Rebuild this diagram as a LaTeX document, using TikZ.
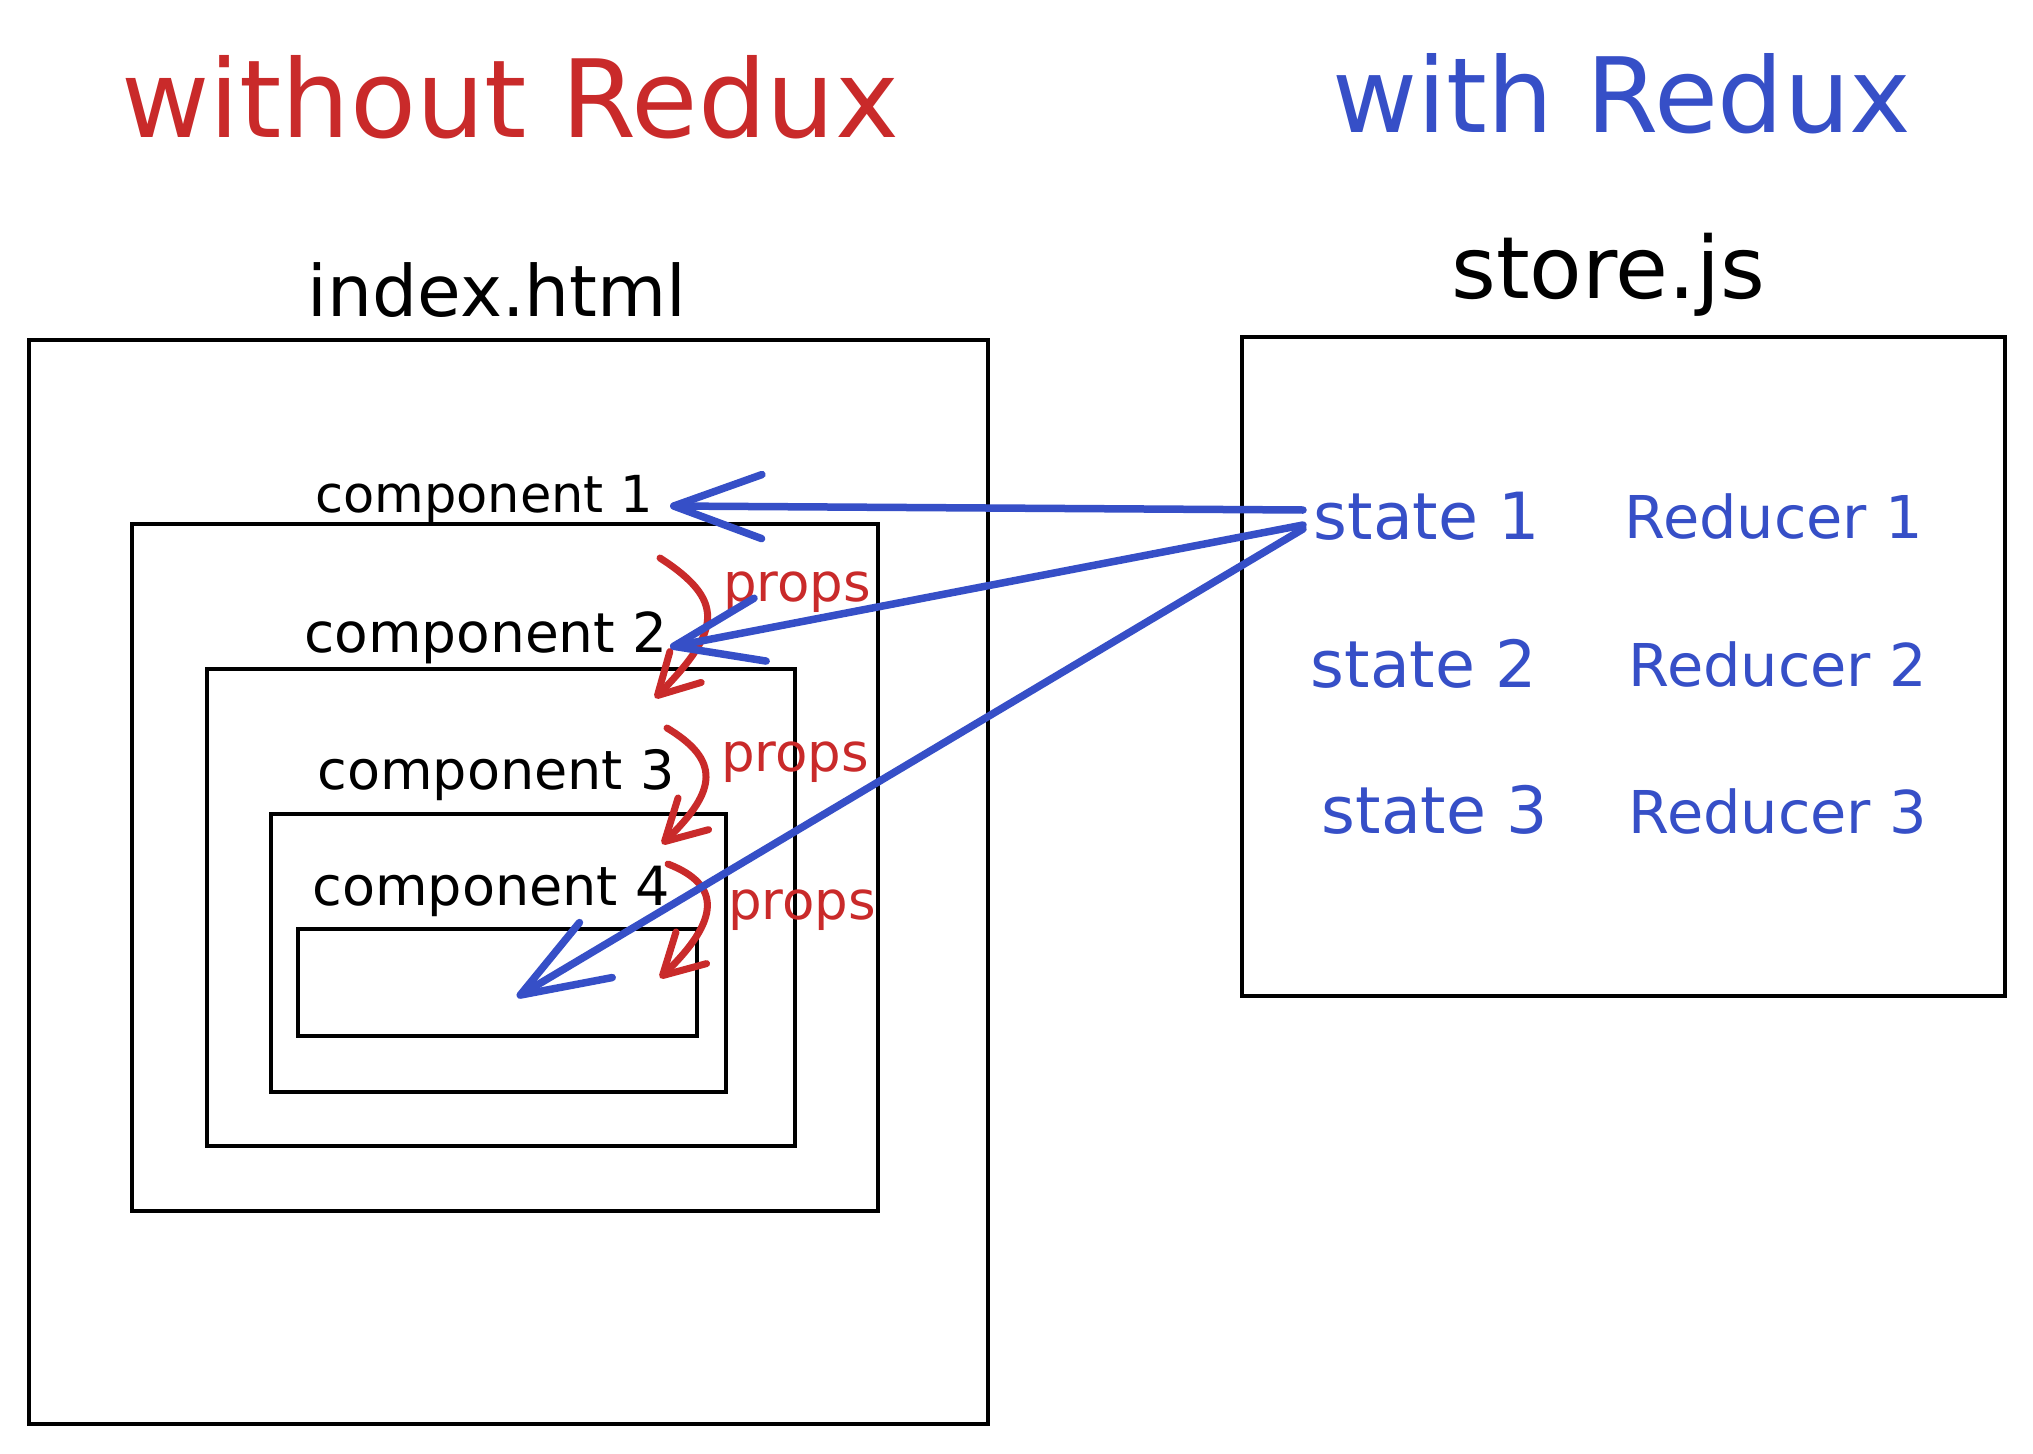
\documentclass[tikz,border=0pt]{standalone}
\usepackage{fontspec}
\setmainfont{DejaVu Sans}
\usetikzlibrary{arrows.meta,calc}
\definecolor{xred}{HTML}{C92A2A}
\definecolor{xblue}{HTML}{364FC7}
\begin{document}
\begin{tikzpicture}[x=1pt,y=-1pt,
  box/.style={draw=black, line width=4pt, rectangle, inner sep=0pt, outer sep=0pt},
  txt/.style={inner sep=0pt, outer sep=0pt, anchor=center},
  comp/.style={txt, text=black},
  props/.style={txt, text=xred, font=\fontsize{53}{64}\selectfont},
  st/.style={txt, text=xblue, font=\fontsize{65}{76}\selectfont},
  rd/.style={txt, text=xblue, font=\fontsize{59}{70}\selectfont},
  red/.style={txt, text=xred, font=\fontsize{108}{120}\selectfont},
  blu/.style={txt, text=xblue, font=\fontsize{104}{120}\selectfont},
  bluearrow/.style={draw=xblue, line width=7.5pt, line cap=round,
    -{Straight Barb[round, length=88pt, width=64pt]}},
  redarrow/.style={draw=xred, line width=7pt, line cap=round,
    -{Straight Barb[round, length=40pt, width=44pt]}}]
\fill[white] (0,0) rectangle (2033,1453);
\useasboundingbox (0,0) rectangle (2033,1453);

% boxes
\node[box, minimum width=959pt, minimum height=1084pt] (index) at (508.5,882) {};
\node[box, minimum width=746pt, minimum height=687pt] (box1) at (505,867.5) {};
\node[box, minimum width=588pt, minimum height=477pt] (box2) at (501,907.5) {};
\node[box, minimum width=455pt, minimum height=278pt] (box3) at (498.5,953) {};
\node[box, minimum width=399pt, minimum height=107pt] (box4) at (497.5,982.5) {};
\node[box, minimum width=763pt, minimum height=659pt] (store) at (1623.5,666.5) {};

% titles
\node[red] (t1) at (510,97) {without Redux};
\node[blu] (t2) at (1622,94) {with Redux};
\node[txt, font=\fontsize{71}{80}\selectfont] (indexlbl) at (497,290) {index.html};
\node[txt, font=\fontsize{86}{96}\selectfont] (storelbl) at (1608,275) {store.js};

% component labels
\node[comp, font=\fontsize{51}{60}\selectfont] (comp1) at (484,499) {component 1};
\node[comp, font=\fontsize{55}{64}\selectfont] (comp2) at (486,638) {component 2};
\node[comp, font=\fontsize{54}{64}\selectfont] (comp3) at (496,775) {component 3};
\node[comp, font=\fontsize{54}{64}\selectfont] (comp4) at (491,891) {component 4};

% props labels
\node[props] (p1) at (797,592) {props};
\node[props] (p2) at (795,762) {props};
\node[props] (p3) at (802,910) {props};

% store contents
\node[st] (s1) at (1427,516) {state 1};
\node[rd] (r1) at (1774,516) {Reducer 1};
\node[st] (s2) at (1424,664) {state 2};
\node[rd] (r2) at (1778,664) {Reducer 2};
\node[st] (s3) at (1435,810) {state 3};
\node[rd] (r3) at (1778,811) {Reducer 3};

% red props arrows
\coordinate (ra1) at (660,558);
\coordinate (rb1) at (655,698);
\coordinate (ra2) at (667,728);
\coordinate (rb2) at (662,844);
\coordinate (ra3) at (668,864);
\coordinate (rb3) at (660,978);
\draw[redarrow] (ra1) .. controls (725,600) and (722,630) .. (rb1);
\draw[redarrow] (ra2) .. controls (720,760) and (718,790) .. (rb2);
\draw[redarrow] (ra3) .. controls (722,885) and (720,920) .. (rb3);

% blue arrows
\coordinate (bs1) at (1303,510);
\coordinate (bs2) at (1303,525);
\coordinate (bs3) at (1303,529);
\coordinate (be1) at (670,506);
\coordinate (be2) at (670,647);
\coordinate (be3) at (517,997);
\draw[bluearrow] (bs1) -- (be1);
\draw[bluearrow] (bs2) -- (be2);
\draw[bluearrow] (bs3) -- (be3);
\end{tikzpicture}
\end{document}
